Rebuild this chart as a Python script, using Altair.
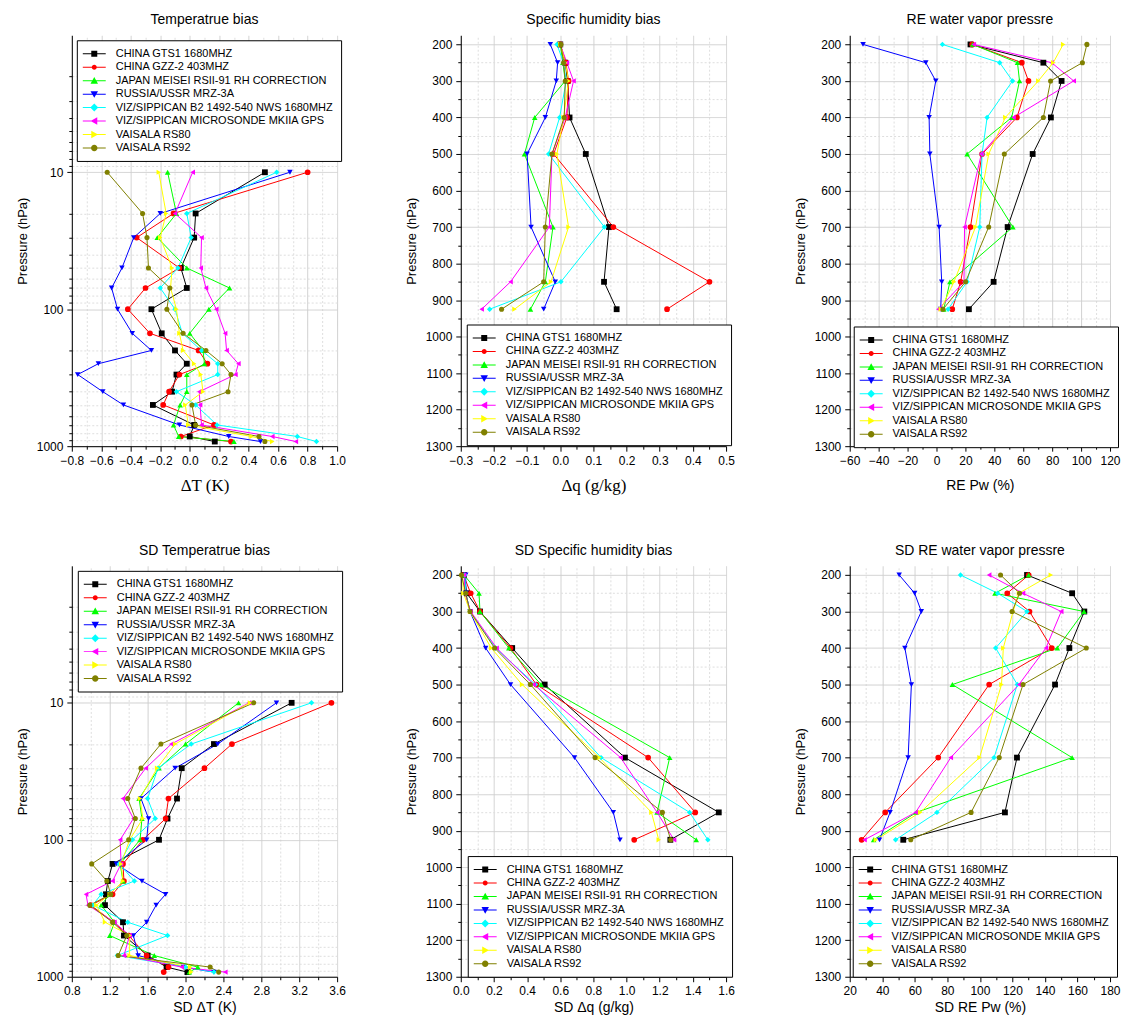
import json
import altair as alt
import pandas as pd

SERIES = [
    "CHINA GTS1 1680MHZ",
    "CHINA GZZ-2 403MHZ",
    "JAPAN MEISEI RSII-91 RH CORRECTION",
    "RUSSIA/USSR MRZ-3A",
    "VIZ/SIPPICAN B2 1492-540 NWS 1680MHZ",
    "VIZ/SIPPICAN MICROSONDE MKIIA GPS",
    "VAISALA RS80",
    "VAISALA RS92",
]
COLORS = ["#000000", "#ff0000", "#00ff00", "#0000ff", "#00ffff", "#ff00ff", "#ffff00", "#808000"]
SHAPES = ["square", "circle", "triangle-up", "triangle-down", "diamond",
          "triangle-left", "triangle-right", "circle"]
SIZES = [34, 26, 40, 40, 40, 40, 40, 40]

_LINE = "M-2.3,-0.1H2.3V0.1H-2.3Z"
LEG_PATHS = [
    _LINE + "M-0.6,-0.6H0.6V0.6H-0.6Z",
    _LINE + "M-0.5,0A0.5,0.5 0 1,1 0.5,0A0.5,0.5 0 1,1 -0.5,0Z",
    _LINE + "M0,-0.75L0.75,0.6L-0.75,0.6Z",
    _LINE + "M0,0.75L-0.75,-0.6L0.75,-0.6Z",
    _LINE + "M0,-0.8L0.8,0L0,0.8L-0.8,0Z",
    _LINE + "M-0.75,0L0.6,-0.75L0.6,0.75Z",
    _LINE + "M0.75,0L-0.6,0.75L-0.6,-0.75Z",
    _LINE + "M-0.65,0A0.65,0.65 0 1,1 0.65,0A0.65,0.65 0 1,1 -0.65,0Z",
]

LEVELS_T = [10, 20, 30, 50, 70, 100, 150, 200, 250, 300, 400, 500, 700, 850, 925]
LEVELS_Q = [200, 250, 300, 400, 500, 700, 850, 925]

# Temperature bias (K), one list per radiosonde type
T_BIAS = [
    [0.51, 0.04, 0.03, -0.06, -0.02, -0.26, -0.19, -0.10, -0.02, -0.09, -0.12, -0.25, 0.03, 0.00, 0.17],
    [0.80, -0.11, -0.36, -0.07, -0.30, -0.42, -0.27, 0.06, 0.12, -0.07, -0.14, -0.18, 0.165, -0.06, 0.28],
    [-0.15, -0.09, -0.22, -0.02, 0.27, 0.13, 0.00, 0.09, 0.10, -0.02, -0.02, -0.065, -0.11, -0.075, 0.30],
    [0.68, -0.20, -0.38, -0.46, -0.53, -0.49, -0.39, -0.26, -0.62, -0.76, -0.59, -0.45, -0.07, 0.265, 0.48],
    [0.59, -0.02, 0.01, -0.08, -0.20, -0.10, -0.05, 0.08, 0.19, 0.19, -0.09, 0.04, 0.185, 0.73, 0.86],
    [0.02, -0.10, 0.08, 0.075, 0.11, 0.18, 0.24, 0.25, 0.33, 0.31, 0.065, 0.07, 0.08, 0.56, 0.72],
    [-0.21, -0.16, -0.20, -0.12, -0.13, -0.09, -0.07, -0.045, 0.03, 0.075, 0.09, -0.03, -0.01, 0.42, 0.56],
    [-0.56, -0.32, -0.29, -0.28, -0.135, -0.155, -0.045, 0.11, 0.22, 0.28, 0.26, 0.015, 0.04, 0.47, 0.51],
]
# Specific humidity bias (g/kg)
Q_BIAS = [
    [0.0, 0.015, 0.022, 0.028, 0.077, 0.147, 0.132, 0.17],
    [0.0, 0.017, 0.025, 0.02, -0.02, 0.16, 0.45, 0.322],
    [0.0, 0.008, 0.015, -0.077, -0.108, -0.022, -0.045, -0.09],
    [-0.03, -0.008, -0.012, -0.045, -0.10, -0.088, -0.015, -0.05],
    [-0.01, 0.01, 0.018, -0.002, -0.035, 0.133, 0.002, -0.213],
    [0.0, 0.02, 0.04, 0.015, -0.025, -0.033, -0.15, -0.237],
    [0.0, 0.015, 0.025, 0.01, -0.01, 0.025, -0.028, -0.138],
    [0.002, 0.01, 0.015, 0.012, -0.025, -0.045, -0.05, -0.177],
]
# Relative error of water vapour pressure (%)
RE_PW = [
    [23.5, 73.9, 86.5, 79.1, 66.5, 49.2, 39.5, 22.4],
    [24.7, 59.0, 63.6, 55.6, 31.5, 23.5, 16.7, 10.9],
    [25.0, 56.0, 57.4, 52.0, 21.2, 52.8, 9.3, 5.0],
    [-50.8, -7.4, -0.5, -5.1, -4.6, 1.8, 3.6, 2.9],
    [4.1, 43.7, 52.6, 35.0, 31.5, 29.9, 21.2, 8.0],
    [25.8, 79.6, 94.9, 53.3, 31.0, 19.4, 19.0, 1.3],
    [87.6, 80.7, 70.4, 47.6, 36.1, 27.0, 12.1, 3.0],
    [104.0, 100.9, 78.9, 73.9, 46.9, 36.1, 20.1, 4.5],
]
# SD of temperature bias (K)
SD_T = [
    [3.12, 2.30, 1.96, 1.91, 1.81, 1.72, 1.23, 1.18, 1.16, 1.15, 1.34, 1.35, 1.60, 1.80, 2.02],
    [3.54, 2.49, 2.20, 1.82, 1.79, 1.55, 1.34, 1.35, 1.23, 1.00, 1.24, 1.40, 1.59, 1.82, 1.77],
    [2.56, 2.00, 1.72, 1.51, 1.54, 1.52, 1.31, 1.34, 1.20, 1.11, 1.25, 1.20, 1.67, 2.13, 2.04],
    [2.96, 2.34, 1.89, 1.53, 1.61, 1.59, 1.27, 1.54, 1.79, 1.69, 1.59, 1.45, 1.50, 1.98, 2.30],
    [3.33, 2.06, 1.71, 1.60, 1.68, 1.44, 1.30, 1.46, 1.11, 1.02, 1.39, 1.81, 1.28, 2.00, 2.30],
    [2.67, 1.85, 1.58, 1.34, 1.45, 1.31, 1.32, 1.23, 0.95, 0.97, 1.25, 1.41, 1.35, 1.96, 2.42],
    [2.68, 1.89, 1.70, 1.52, 1.55, 1.41, 1.32, 1.34, 1.20, 1.06, 1.15, 1.41, 1.41, 2.05, 2.06],
    [2.72, 1.74, 1.53, 1.39, 1.47, 1.40, 1.01, 1.17, 1.21, 0.99, 1.23, 1.38, 1.29, 2.26, 2.35],
]
# SD of specific humidity bias (g/kg)
SD_Q = [
    [0.02, 0.036, 0.116, 0.31, 0.506, 0.99, 1.556, 1.264],
    [0.016, 0.06, 0.116, 0.30, 0.456, 1.13, 1.414, 1.046],
    [0.02, 0.11, 0.116, 0.29, 0.484, 1.26, 1.184, 1.42],
    [0.03, 0.03, 0.056, 0.15, 0.30, 0.686, 0.92, 0.96],
    [0.024, 0.03, 0.056, 0.21, 0.45, 0.846, 1.38, 1.49],
    [0.02, 0.024, 0.06, 0.216, 0.44, 0.964, 1.184, 1.286],
    [0.01, 0.016, 0.056, 0.184, 0.37, 0.836, 1.15, 1.194],
    [0.004, 0.03, 0.056, 0.204, 0.42, 0.81, 1.216, 1.266],
]
# SD of relative error of water vapour pressure (%)
SD_RE = [
    [129.0, 156.7, 164.2, 155.0, 146.2, 122.8, 115.4, 52.9],
    [130.0, 116.8, 130.5, 144.2, 105.7, 74.4, 41.8, 27.3],
    [130.0, 109.3, 164.0, 147.6, 83.1, 156.7, 61.0, 34.7],
    [50.4, 59.9, 64.0, 53.9, 57.9, 55.9, 44.8, 38.3],
    [88.1, 110.9, 129.0, 109.7, 123.0, 108.7, 73.6, 48.2],
    [105.7, 126.5, 150.0, 140.6, 124.0, 82.1, 60.5, 29.1],
    [143.6, 124.0, 120.4, 114.4, 113.3, 99.8, 63.3, 36.1],
    [112.7, 124.4, 119.8, 165.4, 126.5, 111.9, 94.6, 57.5],
]

# axis ticks
XT_MAJOR = [-0.8, -0.6, -0.4, -0.2, 0.0, 0.2, 0.4, 0.6, 0.8, 1.0]
XT_MINOR = [-0.7, -0.5, -0.3, -0.1, 0.1, 0.3, 0.5, 0.7, 0.9]
XQ_MAJOR = [-0.3, -0.2, -0.1, 0.0, 0.1, 0.2, 0.3, 0.4, 0.5]
XQ_MINOR = [-0.25, -0.15, -0.05, 0.05, 0.15, 0.25, 0.35, 0.45]
XR_MAJOR = [-60, -40, -20, 0, 20, 40, 60, 80, 100, 120]
XR_MINOR = [-50, -30, -10, 10, 30, 50, 70, 90, 110]
XST_MAJOR = [0.8, 1.2, 1.6, 2.0, 2.4, 2.8, 3.2, 3.6]
XST_MINOR = [1.0, 1.4, 1.8, 2.2, 2.6, 3.0, 3.4]
XSQ_MAJOR = [0.0, 0.2, 0.4, 0.6, 0.8, 1.0, 1.2, 1.4, 1.6]
XSQ_MINOR = [0.1, 0.3, 0.5, 0.7, 0.9, 1.1, 1.3, 1.5]
XSR_MAJOR = [20, 40, 60, 80, 100, 120, 140, 160, 180]
XSR_MINOR = [30, 50, 70, 90, 110, 130, 150, 170]
YLOG_MAJOR = [10, 100, 1000]
YLOG_MINOR = [2, 3, 4, 5, 6, 7, 8, 9, 20, 30, 40, 50, 60, 70, 80, 90,
              200, 300, 400, 500, 600, 700, 800, 900]
YLIN_MAJOR = [200, 300, 400, 500, 600, 700, 800, 900, 1000, 1100, 1200, 1300]
YLIN_MINOR = [250, 350, 450, 550, 650, 750, 850, 950, 1050, 1150, 1250]

FONT = "Arial, Liberation Sans, sans-serif"
SERIF = "Times New Roman, Liberation Serif, serif"

H = 412


def make_axis(major, minor, fmt, title, title_font, title_size, title_pad):
    test = "indexof(%s, round(datum.value*1000)/1000) >= 0" % json.dumps(major)
    return alt.Axis(
        values=sorted(major + minor),
        format=fmt,
        labelExpr="(%s) ? datum.label : ''" % test,
        labelOverlap=False,
        labelFlush=False,
        tickSize={"condition": {"test": test, "value": 5}, "value": 3},
        gridDash={"condition": {"test": test, "value": [1, 0]}, "value": [2, 2]},
        gridColor={"condition": {"test": test, "value": "#cfcfcf"}, "value": "#dedede"},
        title=title,
        titleFont=title_font,
        titleFontSize=title_size,
        titlePadding=title_pad,
    )


def panel(title, xtitle, xfont, xsize, xpad, levels, values, xdom, xmajor, xminor, xfmt,
          ylog, legx, legy, width):
    rows = []
    for s, vals in zip(SERIES, values):
        for p, v in zip(levels, vals):
            rows.append({"series": s, "p": p, "v": v})
    df = pd.DataFrame(rows)

    if ylog:
        yscale = alt.Scale(type="log", domain=[1, 1000], reverse=True, nice=False)
        yaxis = make_axis(YLOG_MAJOR, YLOG_MINOR, "d", "Pressure (hPa)", FONT, 13, 7)
    else:
        yscale = alt.Scale(domain=[175, 1300], reverse=True, nice=False, zero=False)
        yaxis = make_axis(YLIN_MAJOR, YLIN_MINOR, "d", "Pressure (hPa)", FONT, 13, 7)
    xaxis = make_axis(xmajor, xminor, xfmt, xtitle, xfont, xsize, xpad)

    xenc = alt.X("v:Q", scale=alt.Scale(domain=xdom, nice=False, zero=False), axis=xaxis)
    yenc = alt.Y("p:Q", scale=yscale, axis=yaxis)
    cscale = alt.Scale(domain=SERIES, range=COLORS)

    legend = alt.Legend(
        title=None, orient="none", legendX=legx, legendY=legy,
        strokeColor="black", fillColor="white", padding=8,
        labelFont=FONT, labelFontSize=11, labelColor="black", labelLimit=400,
        symbolSize=100, symbolStrokeWidth=0, symbolOffset=4, labelOffset=16,
        rowPadding=1.5,
    )

    base = alt.Chart(df)
    lines = base.mark_line(strokeWidth=1).encode(
        x=xenc, y=yenc, order="p:Q",
        color=alt.Color("series:N", scale=cscale, legend=None),
    )
    points = base.mark_point(filled=True, opacity=1).encode(
        x=xenc, y=yenc,
        color=alt.Color("series:N", scale=cscale, legend=None),
        shape=alt.Shape("series:N", scale=alt.Scale(domain=SERIES, range=SHAPES), legend=None),
        size=alt.Size("series:N", scale=alt.Scale(domain=SERIES, range=SIZES), legend=None),
    )
    leg = base.transform_filter("false").mark_point(filled=True, opacity=1).encode(
        x=xenc, y=yenc,
        color=alt.Color("series:N", scale=cscale, legend=legend),
        shape=alt.Shape("series:N", scale=alt.Scale(domain=SERIES, range=LEG_PATHS), legend=legend),
    )
    return alt.layer(lines, points, leg).resolve_scale(
        color="independent", shape="independent", size="independent"
    ).properties(
        width=width, height=H,
        title=alt.Title(title, font=FONT, fontSize=14, fontWeight="normal", color="black", offset=8),
    )


p1 = panel("Temperatrue bias", "\u0394T (K)", SERIF, 17, 11, LEVELS_T, T_BIAS, [-0.8, 1.0],
           XT_MAJOR, XT_MINOR, ".1f", True, 5, 5, 266)
p2 = panel("Specific humidity bias", "\u0394q (g/kg)", SERIF, 17, 11, LEVELS_Q, Q_BIAS, [-0.3, 0.5],
           XQ_MAJOR, XQ_MINOR, ".1f", False, 6, 290, 266)
p3 = panel("RE water vapor pressre", "RE Pw (%)", FONT, 14, 12, LEVELS_Q, RE_PW, [-60, 120],
           XR_MAJOR, XR_MINOR, "d", False, 4, 292, 261)
p4 = panel("SD Temperatrue bias", "SD \u0394T (K)", FONT, 14, 4, LEVELS_T, SD_T, [0.8, 3.6],
           XST_MAJOR, XST_MINOR, ".1f", True, 6, 5, 266)
p5 = panel("SD Specific humidity bias", "SD \u0394q (g/kg)", FONT, 14, 4, LEVELS_Q, SD_Q, [0.0, 1.6],
           XSQ_MAJOR, XSQ_MINOR, ".1f", False, 7, 291, 266)
p6 = panel("SD RE water vapor pressre", "SD RE Pw (%)", FONT, 14, 4, LEVELS_Q, SD_RE, [20, 180],
           XSR_MAJOR, XSR_MINOR, "d", False, 3, 291, 261)

RES = dict(color="independent", shape="independent", size="independent")
chart = alt.concat(
    p1, p2, p3, p4, p5, p6, columns=3,
    spacing={"row": 120, "column": 124}, bounds="flush",
).resolve_scale(**RES).resolve_legend(
    color="independent", shape="independent", size="independent"
).properties(
    padding={"left": 8, "top": 4, "right": 0, "bottom": 0},
    background="white",
).configure_view(stroke=None).configure_axis(
    domainColor="black", domainWidth=1, tickColor="black", tickWidth=1,
    labelColor="black", labelFont=FONT, labelFontSize=12, labelPadding=4,
    titleColor="black", titleFontWeight="normal",
)

chart.save("out.html", embed_options={"renderer": "svg", "actions": False})
